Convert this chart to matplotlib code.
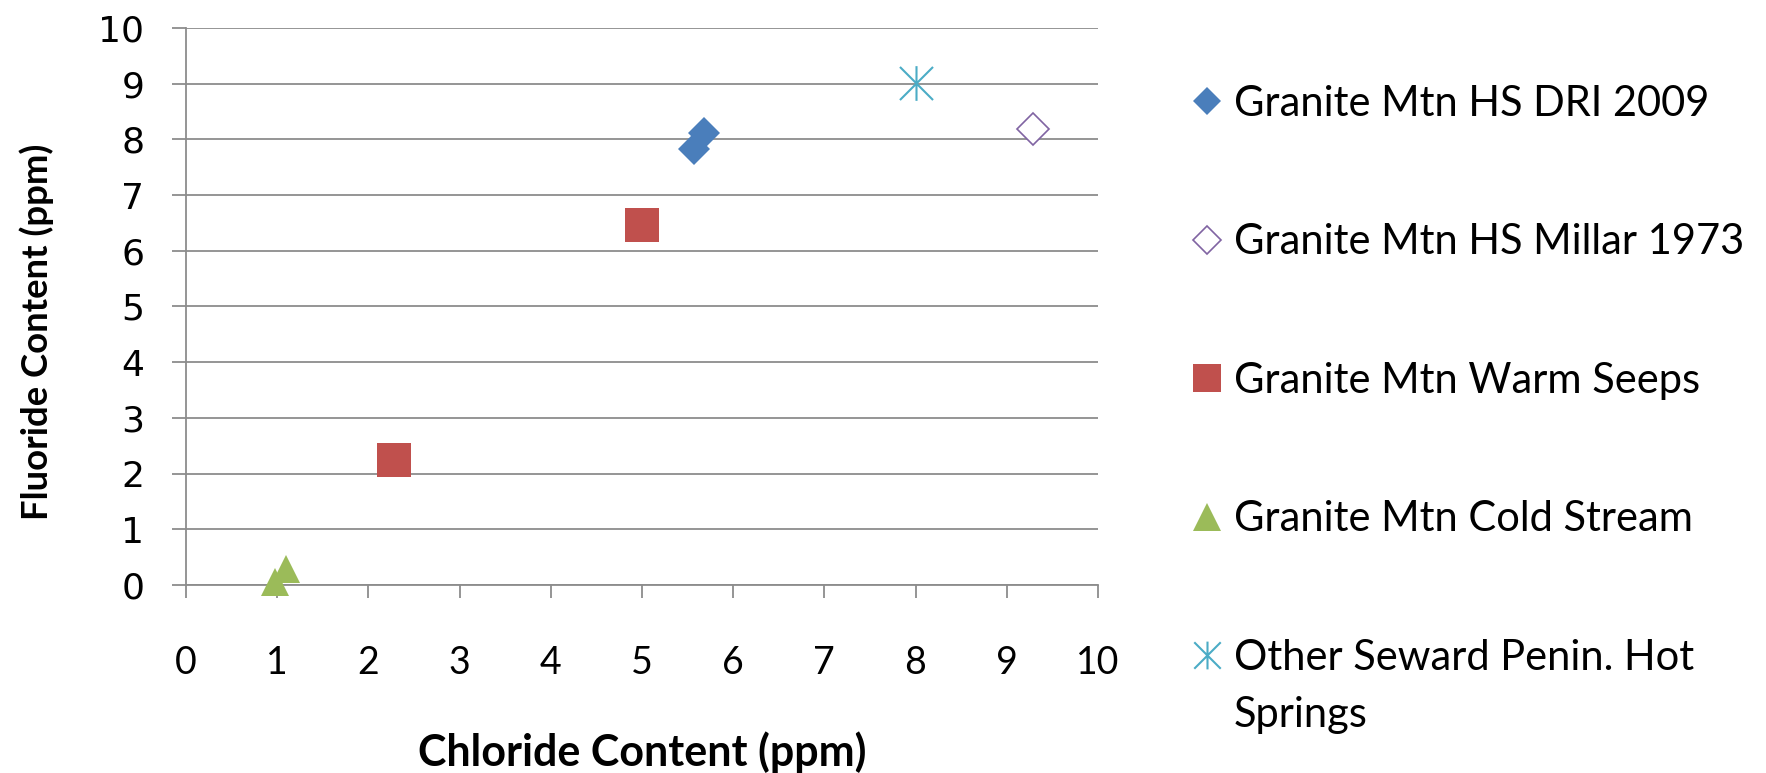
import matplotlib
matplotlib.use("Agg")
import matplotlib.pyplot as plt
from matplotlib.path import Path
from matplotlib.lines import Line2D

# ---- data ----
chloride_dri = [5.57, 5.68]
fluoride_dri = [7.82, 8.12]
chloride_millar = [9.29]
fluoride_millar = [8.18]
chloride_warm = [2.28, 5.0]
fluoride_warm = [2.25, 6.46]
chloride_cold = [0.98, 1.10]
fluoride_cold = [0.05, 0.28]
chloride_other = [8.0]
fluoride_other = [9.02]

series_labels = [
    "Granite Mtn HS DRI 2009",
    "Granite Mtn HS Millar 1973",
    "Granite Mtn Warm Seeps",
    "Granite Mtn Cold Stream",
    "Other Seward Penin. Hot",
]
label_continuation = "Springs"
x_ticks = list(range(0, 11))
y_ticks = list(range(0, 11))
x_label = "Chloride Content (ppm)"
y_label = "Fluoride Content (ppm)"

# ---- styling ----
BLUE = "#4A7EBB"
PURPLE = "#8064A2"
RED = "#C0504D"
GREEN = "#9BBB59"
CYAN = "#4BACC6"
GRID = "#8C8C8C"

asterisk = Path(
    [(-1, -1), (1, 1), (-1, 1), (1, -1), (0, -1.05), (0, 1.05)],
    [Path.MOVETO, Path.LINETO, Path.MOVETO, Path.LINETO, Path.MOVETO, Path.LINETO],
)

fig = plt.figure(figsize=(17.66, 7.73), dpi=100)
ax = fig.add_axes([0.1053, 0.2432, 0.5164, 0.7206])

styles = [
    dict(marker="D", ms=16.5, mfc=BLUE, mec=BLUE, mew=0),
    dict(marker="D", ms=16.5, mfc="white", mec=PURPLE, mew=1.2),
    dict(marker="s", ms=24, mfc=RED, mec=RED, mew=0),
    dict(marker="^", ms=20, mfc=GREEN, mec=GREEN, mew=0),
    dict(marker=asterisk, ms=25, mfc="none", mec=CYAN, mew=1.5),
]
data = [
    (chloride_dri, fluoride_dri),
    (chloride_millar, fluoride_millar),
    (chloride_warm, fluoride_warm),
    (chloride_cold, fluoride_cold),
    (chloride_other, fluoride_other),
]
legend_ms = [14.5, 14.5, 20, 20, 20]
handles = []
for (xs, ys), st, lms in zip(data, styles, legend_ms):
    ax.plot(xs, ys, ls="none", clip_on=False, zorder=3, **st)
    hst = dict(st)
    hst["ms"] = lms
    handles.append(Line2D([], [], ls="none", **hst))

ax.set_xlim(0, 10)
ax.set_ylim(0, 10)
ax.set_xticks(x_ticks)
ax.set_yticks(y_ticks)
ax.set_xticklabels([str(v) for v in x_ticks], family="Lato", fontsize=27)
ax.set_yticklabels([str(v) for v in y_ticks], family="DejaVu Sans", fontsize=26)

ax.yaxis.grid(True, color=GRID, lw=1.3)
ax.set_axisbelow(True)
for s in ["top", "right"]:
    ax.spines[s].set_visible(False)
for s in ["left", "bottom"]:
    ax.spines[s].set_color(GRID)
    ax.spines[s].set_linewidth(1.3)
ax.tick_params(axis="x", direction="out", length=9, width=1.3, color=GRID, pad=34)
ax.tick_params(axis="y", direction="out", length=10, width=1.3, color=GRID, pad=20)

ax.set_xlabel(x_label, family="Lato", fontweight="bold", fontsize=31)
ax.set_ylabel(y_label, family="Lato", fontweight="bold", fontsize=26.3)
ax.xaxis.set_label_coords(0.5, -0.262)
ax.yaxis.set_label_coords(-0.145, 0.454)

leg = fig.legend(
    handles, series_labels, loc="upper left", bbox_to_anchor=(0.674, 0.89),
    frameon=False, prop=dict(family="Lato", size=30), handletextpad=0.25,
    labelspacing=2.41, handlelength=0.8, borderpad=0, borderaxespad=0,
)

fig.canvas.draw()
last = leg.get_texts()[-1]
bb = last.get_window_extent()
fig.text(bb.x0 / fig.bbox.width, (bb.y0 - 57) / fig.bbox.height, label_continuation,
         family="Lato", fontsize=30, ha="left", va="bottom")

fig.savefig("out.png", dpi=100)
